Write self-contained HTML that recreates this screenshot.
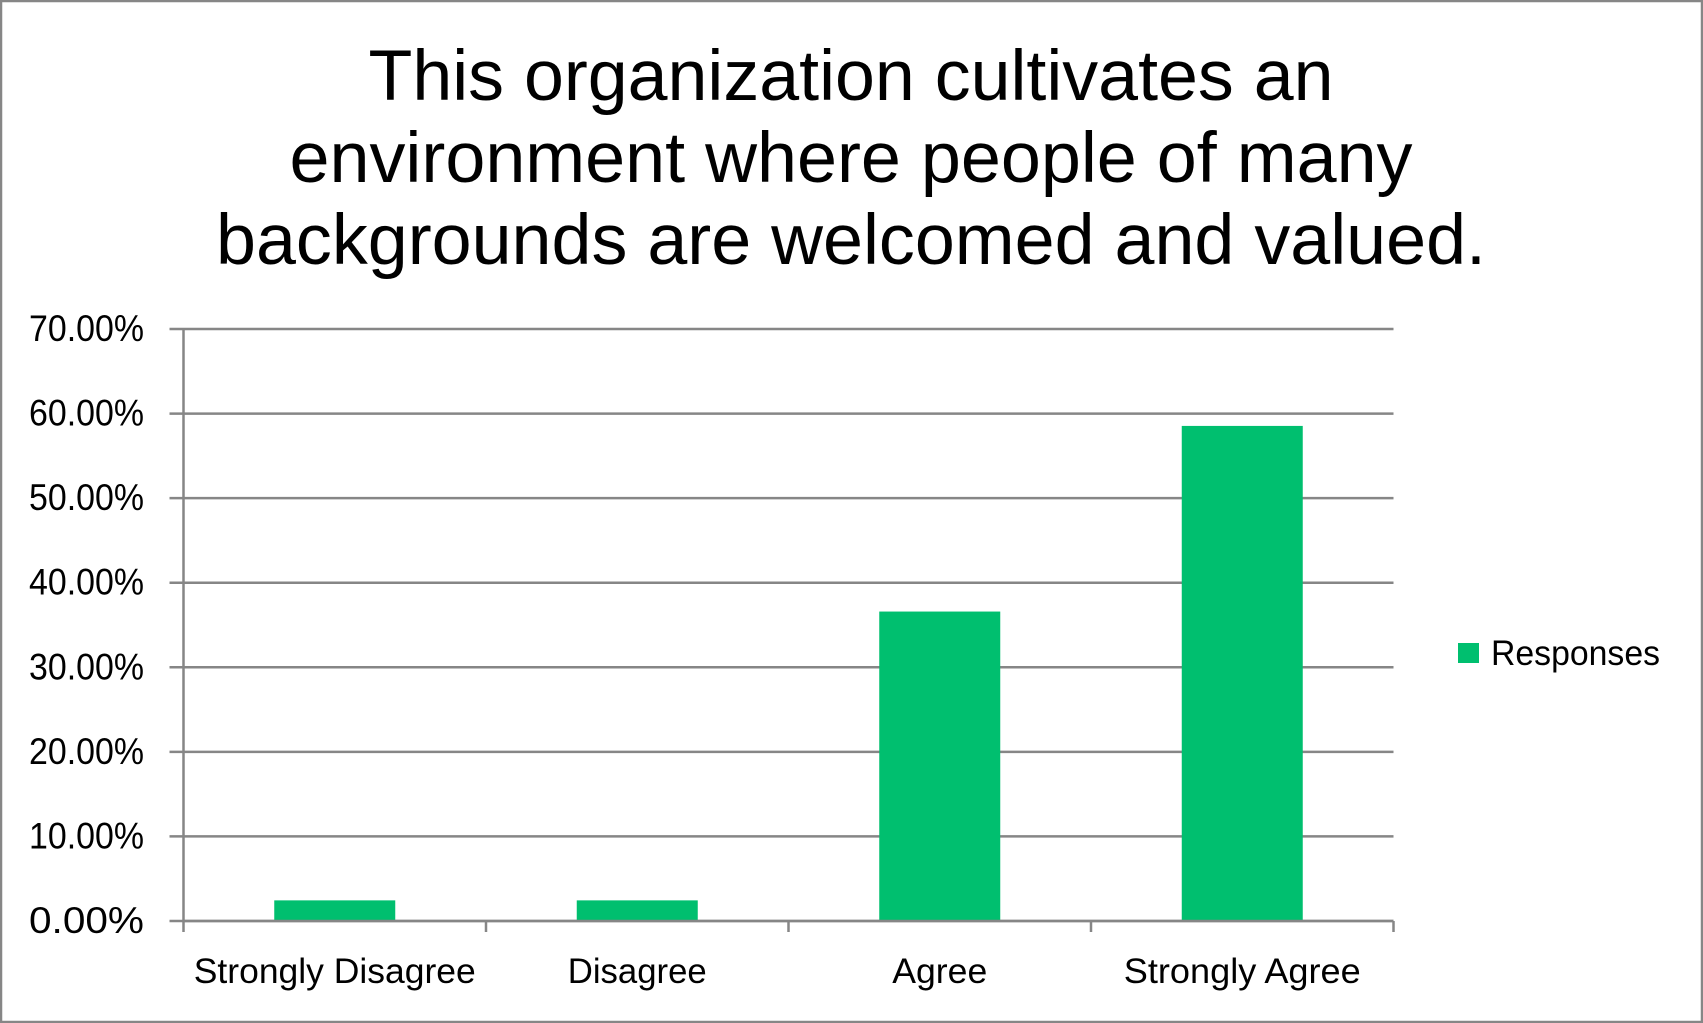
<!DOCTYPE html>
<html><head><meta charset="utf-8"><style>html,body{margin:0;padding:0;background:#fff}svg{display:block}</style></head>
<body>
<svg width="1703" height="1023" viewBox="0 0 1703 1023" xmlns="http://www.w3.org/2000/svg" font-family="Liberation Sans, sans-serif">
<rect x="1" y="1" width="1701" height="1021" fill="#fff" stroke="#868686" stroke-width="2.5"/>
<g font-size="71" text-anchor="middle" fill="#000">
<text x="851" y="100" textLength="965" lengthAdjust="spacingAndGlyphs">This organization cultivates an</text>
<text x="851" y="182" textLength="1123" lengthAdjust="spacingAndGlyphs">environment where people of many</text>
<text x="851" y="264" textLength="1270" lengthAdjust="spacingAndGlyphs">backgrounds are welcomed and valued.</text>
</g>
<g id="grid"></g>
<g id="bars"></g>
<g id="axes"></g>
<g>
<rect x="1458" y="643" width="21" height="20" fill="#00BF6F"/>
<text x="1491" y="665" font-size="35" fill="#000" textLength="169" lengthAdjust="spacingAndGlyphs">Responses</text>
</g>
<script>
const categories = ["Strongly Disagree","Disagree","Agree","Strongly Agree"];
const values = [2.44, 2.44, 36.59, 58.54];
const yTicks = [0,10,20,30,40,50,60,70];
const yTickLabels = ["0.00%","10.00%","20.00%","30.00%","40.00%","50.00%","60.00%","70.00%"];
const catLabelWidths = [282,139,95,237];

const NS = "http://www.w3.org/2000/svg";
const L = 183.5, R = 1393.5, T = 329, B = 921, YMAX = 70;
const y = v => B - (v / YMAX) * (B - T);
const band = (R - L) / categories.length;
const xc = i => L + band * (i + 0.5);
function mk(tag, attrs, parent) { const e = document.createElementNS(NS, tag); for (const k in attrs) e.setAttribute(k, attrs[k]); parent.appendChild(e); return e; }
const grid = document.getElementById('grid'), bars = document.getElementById('bars'), axes = document.getElementById('axes');
yTicks.forEach((t, i) => {
  const ln = mk('line', {x1: L - 14, x2: R, y1: y(t), y2: y(t), stroke: '#868686', 'stroke-width': 2.5}, grid);
  
  
  const tx = mk('text', {x: 144, y: y(t) + 12, 'font-size': 37, 'text-anchor': 'end', fill: '#000', textLength: 115, lengthAdjust: 'spacingAndGlyphs'}, axes);
  tx.textContent = yTickLabels[i];
  
  
});
values.forEach((v, i) => {
  const w = band * 0.4;
  const r = mk('rect', {x: xc(i) - w / 2, y: y(v), width: w, height: B - y(v), fill: '#00BF6F'}, bars);
  
  
});
const yAxis = mk('line', {x1: L, x2: L, y1: T, y2: B + 11, stroke: '#868686', 'stroke-width': 2.5}, axes);


const xAxis = mk('line', {x1: L, x2: R, y1: B, y2: B, stroke: '#868686', 'stroke-width': 2.5}, axes);


for (let i = 1; i <= categories.length; i++) {
  const tk = mk('line', {x1: L + band * i, x2: L + band * i, y1: B, y2: B + 11, stroke: '#868686', 'stroke-width': 2.5}, axes);
  
  
}
categories.forEach((c, i) => {
  const tx = mk('text', {x: xc(i), y: 983, 'font-size': 35, 'text-anchor': 'middle', fill: '#000', textLength: catLabelWidths[i], lengthAdjust: 'spacingAndGlyphs'}, axes);
  tx.textContent = c;
  
  
});
</script>
</svg>
</body></html>
